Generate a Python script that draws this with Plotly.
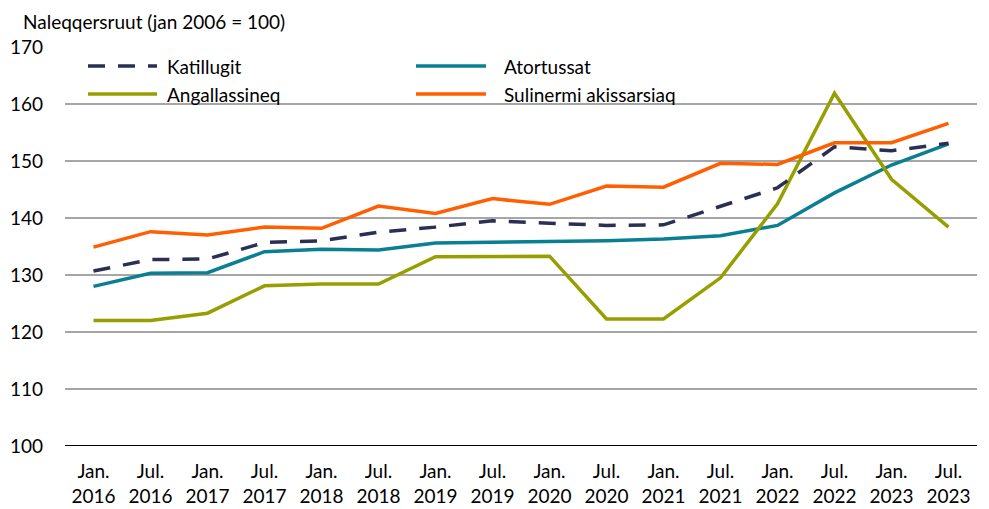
import plotly.graph_objects as go

categories = ["Jan.<br>2016", "Jul.<br>2016", "Jan.<br>2017", "Jul.<br>2017", "Jan.<br>2018", "Jul.<br>2018",
              "Jan.<br>2019", "Jul.<br>2019", "Jan.<br>2020", "Jul.<br>2020", "Jan.<br>2021", "Jul.<br>2021",
              "Jan.<br>2022", "Jul.<br>2022", "Jan.<br>2023", "Jul.<br>2023"]

katillugit = [130.7, 132.7, 132.8, 135.7, 136.0, 137.5, 138.4, 139.5, 139.1, 138.7, 138.8, 142.0, 145.3, 152.5, 151.8, 153.1]
atortussat = [128.0, 130.3, 130.4, 134.1, 134.5, 134.4, 135.6, 135.7, 135.8, 136.0, 136.3, 136.9, 138.7, 144.4, 149.3, 153.0]
angallassineq = [122.0, 122.0, 123.3, 128.1, 128.4, 128.4, 133.2, 133.2, 133.3, 122.3, 122.3, 129.5, 142.5, 161.9, 146.8, 138.4]
sulinermi = [134.9, 137.6, 137.0, 138.4, 138.2, 142.1, 140.8, 143.4, 142.4, 145.6, 145.4, 149.6, 149.4, 153.2, 153.2, 156.6]

y_ticks = [100, 110, 120, 130, 140, 150, 160, 170]

NAVY = "#2a2f54"
TEAL = "#0b7f92"
OLIVE = "#979f00"
ORANGE = "#ff5f00"
FONT = "Lato"
FS = 19

x = list(range(len(categories)))

fig = go.Figure()
series = [
    ("Atortussat", atortussat, TEAL, "solid"),
    ("Angallassineq", angallassineq, OLIVE, "solid"),
    ("Sulinermi akissarsiaq", sulinermi, ORANGE, "solid"),
    ("Katillugit", katillugit, NAVY, "17px,13px"),
]
for name, vals, col, dash in series:
    fig.add_trace(go.Scatter(x=x, y=vals, mode="lines", name=name,
                             line=dict(color=col, width=3.5, dash=dash),
                             showlegend=False, hoverinfo="x+y+name"))

OFF = 8  # page body margin
W, H = 989 - OFF, 509 - OFF
L, R, T, B = 65 - OFF, 12 - OFF + 8, 47 - OFF, 63
R = 989 - 977 - OFF + OFF  # right edge of plot at x=977 in window
pw = W - L - R
ph = H - T - B

def px(xp):
    return (xp - OFF - L) / pw

def py(yp):
    return 1 - (yp - OFF - T) / ph

shapes = []
annotations = []
legend_items = [
    ("Katillugit", NAVY, "17px,13px", 88, 157, 165, 66),
    ("Atortussat", TEAL, "solid", 416, 486, 502, 66),
    ("Angallassineq", OLIVE, "solid", 88, 157, 165, 94),
    ("Sulinermi akissarsiaq", ORANGE, "solid", 416, 486, 502, 94),
]
for name, col, dash, x0, x1, tx, yy in legend_items:
    shapes.append(dict(type="line", xref="paper", yref="paper",
                       x0=px(x0), x1=px(x1), y0=py(yy), y1=py(yy),
                       line=dict(color=col, width=3.5, dash=dash)))
    annotations.append(dict(text=name, xref="paper", yref="paper", x=px(tx), y=py(yy),
                            xanchor="left", yanchor="middle", showarrow=False,
                            font=dict(family=FONT, size=FS, color="#000000")))

annotations.append(dict(text="Naleqqersruut (jan 2006 = 100)", xref="paper", yref="paper",
                        x=px(21), y=py(21), xanchor="left", yanchor="middle", showarrow=False,
                        font=dict(family=FONT, size=FS, color="#000000")))

fig.update_layout(
    width=W, height=H,
    margin=dict(l=L, r=R, t=T, b=B),
    paper_bgcolor="white", plot_bgcolor="white",
    font=dict(family=FONT, size=FS, color="#000000"),
    shapes=shapes, annotations=annotations,
    showlegend=False,
)
fig.update_xaxes(
    tickmode="array", tickvals=x, ticktext=categories,
    range=[-0.5, len(categories) - 0.5],
    showgrid=False, zeroline=False, showline=False,
    ticks="", ticklabelstandoff=12, automargin=False,
    tickfont=dict(family=FONT, size=FS, color="#000000"),
)
fig.update_yaxes(
    range=[100, 170], tickmode="array", tickvals=y_ticks,
    showgrid=True, gridcolor="#a6a6a6", gridwidth=2,
    zeroline=False, showline=False, ticks="",
    ticklabelstandoff=21, automargin=False,
    tickfont=dict(family=FONT, size=FS, color="#000000"),
)
fig.add_hline(y=100, line=dict(color="#000000", width=2), layer="below")

fig.write_html("out.html")
